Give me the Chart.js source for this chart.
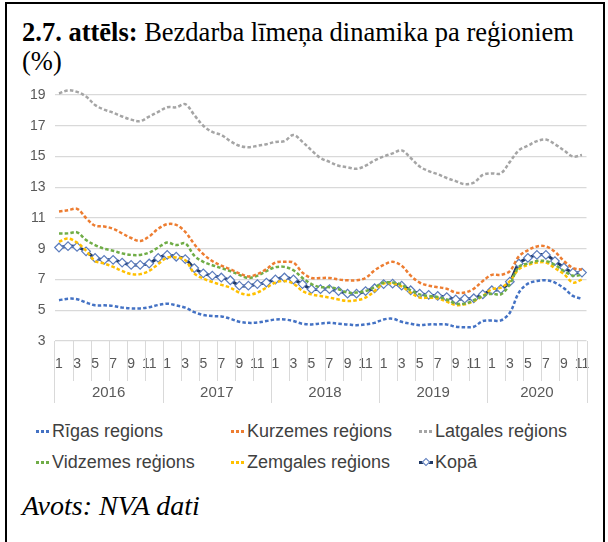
<!DOCTYPE html>
<html lang="lv">
<head>
  <meta charset="UTF-8" />
  <title>Bezdarba līmeņa dinamika pa reģioniem</title>
  <script src="https://cdn.jsdelivr.net/npm/chart.js"></script>
  <style>
    body {
      margin: 0;
      background: #fff;
      width: 608px;
      height: 542px;
      overflow: hidden;
      position: relative;
    }
    .ramis {
      position: absolute;
      left: 5px;
      top: 2px;
      width: 596px;
      height: 560px;
      border: 2px solid #000;
      border-bottom: none;
    }
    .virsraksts {
      position: absolute;
      left: 22px;
      top: 18px;
      width: 575px;
      font-family: 'Liberation Serif', 'Times New Roman', serif;
      font-size: 26.5px;
      line-height: 29px;
      color: #000;
    }
    .grafiks {
      position: absolute;
      left: 0;
      top: 70px;
    }
    .legenda {
      position: absolute;
      left: 0;
      top: 421px;
      width: 608px;
      font-family: 'Liberation Sans', Arial, sans-serif;
      font-size: 18px;
      color: #404040;
    }
    .legenda .el {
      position: absolute;
      white-space: nowrap;
      display: flex;
      align-items: center;
    }
    .legenda .paraugs {
      width: 14px;
      height: 3px;
      margin-right: 2px;
      position: relative;
    }
    .avots {
      position: absolute;
      left: 22px;
      top: 490px;
      font-family: 'Liberation Serif', 'Times New Roman', serif;
      font-style: italic;
      font-size: 28px;
      color: #000;
    }
  </style>
</head>
<body>
  <div class="ramis"></div>
  <div class="virsraksts"><b>2.7. attēls:</b> Bezdarba līmeņa dinamika pa reģioniem (%)</div>
  <canvas class="grafiks" id="chartBezdarbs" width="608" height="345"></canvas>
  <div class="legenda" id="legenda"></div>
  <div class="avots">Avots: NVA dati</div>

  <script>
    const gadi = ['2016', '2017', '2018', '2019', '2020'];
    const menesuSkaits = [12, 12, 12, 12, 11];

    const rigas = [5.65, 5.75, 5.72, 5.5, 5.32, 5.32, 5.28, 5.17, 5.12, 5.12, 5.2, 5.34,
      5.43, 5.32, 5.17, 4.88, 4.69, 4.62, 4.6, 4.45, 4.25, 4.18, 4.2, 4.3,
      4.4, 4.4, 4.3, 4.12, 4.08, 4.14, 4.18, 4.12, 4.08, 4.03, 4.08, 4.18,
      4.4, 4.45, 4.25, 4.12, 4.03, 4.08, 4.08, 4.08, 3.93, 3.9, 3.93, 4.3,
      4.34, 4.34, 4.84, 6.15, 6.73, 6.9, 6.95, 6.8, 6.43, 5.93, 5.75];
    const kurzemes = [11.42, 11.5, 11.6, 11.0, 10.5, 10.45, 10.3, 10.0, 9.7, 9.5, 9.8, 10.3,
      10.6, 10.55, 10.1, 9.3, 8.65, 8.2, 7.9, 7.67, 7.4, 7.2, 7.35, 7.67,
      8.1, 8.15, 8.1, 7.45, 7.1, 7.1, 7.1, 7.0, 6.95, 6.95, 7.1, 7.6,
      7.95, 8.15, 7.9, 7.25, 6.8, 6.6, 6.5, 6.4, 6.15, 6.15, 6.4, 6.9,
      7.3, 7.3, 7.55, 8.5, 8.9, 9.15, 9.15, 8.8, 8.2, 7.75, 7.65];
    const latgales = [19.1, 19.3, 19.2, 18.9, 18.35, 18.05, 17.85, 17.6, 17.4, 17.3, 17.6, 17.9,
      18.2, 18.2, 18.4, 17.7, 17.0, 16.6, 16.4, 16.0, 15.7, 15.6, 15.7, 15.8,
      15.95, 16.0, 16.4, 15.95, 15.4, 14.9, 14.65, 14.4, 14.3, 14.2, 14.4, 14.75,
      15.0, 15.2, 15.4, 14.9, 14.35, 14.05, 13.85, 13.6, 13.4, 13.2, 13.3, 13.8,
      13.9, 13.9, 14.65, 15.4, 15.7, 16.0, 16.1, 15.8, 15.4, 15.0, 15.1];
    const vidzemes = [10.0, 10.0, 10.07, 9.57, 9.24, 9.0, 8.87, 8.7, 8.6, 8.6, 8.75, 9.08,
      9.4, 9.24, 9.35, 8.55, 8.15, 7.93, 7.74, 7.55, 7.3, 7.1, 7.25, 7.55,
      7.8, 7.82, 7.6, 7.1, 6.7, 6.5, 6.5, 6.37, 6.15, 6.15, 6.25, 6.5,
      6.8, 6.8, 6.65, 6.3, 6.03, 5.93, 5.86, 5.7, 5.43, 5.43, 5.65, 5.93,
      6.08, 6.03, 6.7, 7.82, 8.04, 8.2, 8.2, 7.95, 7.56, 7.25, 7.3];
    const zemgales = [9.46, 9.67, 9.4, 8.87, 8.2, 8.04, 7.82, 7.56, 7.35, 7.35, 7.56, 8.0,
      8.43, 8.43, 8.26, 7.4, 7.06, 6.84, 6.65, 6.47, 6.15, 6.0, 6.15, 6.47,
      6.8, 6.9, 6.73, 6.25, 6.03, 5.93, 5.82, 5.7, 5.6, 5.65, 5.82, 6.25,
      6.73, 6.73, 6.55, 6.15, 5.82, 5.82, 5.78, 5.56, 5.34, 5.39, 5.6, 5.93,
      6.37, 6.47, 6.9, 7.67, 7.95, 8.1, 8.1, 7.74, 7.35, 6.8, 7.0];
    const kopa = [9.08, 9.17, 9.12, 8.83, 8.4, 8.28, 8.28, 8.1, 7.95, 7.95, 8.04, 8.4,
      8.6, 8.48, 8.33, 7.74, 7.4, 7.25, 7.13, 6.95, 6.6, 6.6, 6.7, 6.8,
      7.0, 7.13, 7.0, 6.7, 6.37, 6.37, 6.37, 6.25, 6.08, 6.08, 6.25, 6.43,
      6.7, 6.73, 6.6, 6.3, 6.08, 6.0, 5.93, 5.86, 5.7, 5.75, 5.78, 6.03,
      6.3, 6.37, 6.86, 8.04, 8.4, 8.6, 8.6, 8.2, 7.78, 7.45, 7.45];

    // mēnešu etiķetes 1..12 katram gadam
    const menesi = [];
    menesuSkaits.forEach(n => { for (let m = 1; m <= n; m++) menesi.push(String(m)); });

    const fonts = "'Liberation Sans', Arial, sans-serif";

    function rinda(label, dati, krasa) {
      return {
        label: label,
        data: dati,
        borderColor: krasa,
        backgroundColor: krasa,
        borderWidth: 2.5,
        borderDash: [3.5, 2.2],
        pointRadius: 0,
        tension: 0.35,
        clip: false
      };
    }

    // gadu etiķetes un atdalītāji zem ass
    const gaduAss = {
      id: 'gaduAss',
      afterDraw(chart) {
        const { ctx, chartArea } = chart;
        const x = chart.scales.x;
        const puse = (x.getPixelForValue(1) - x.getPixelForValue(0)) / 2;
        const apaksa = chartArea.bottom;
        ctx.save();
        ctx.strokeStyle = '#d9d9d9';
        ctx.lineWidth = 1;
        menesi.forEach((m, i) => {
          if (i % 2 !== 0) return;
          const px = Math.round(x.getPixelForValue(i) - puse) + 0.5;
          ctx.beginPath();
          ctx.moveTo(px, apaksa);
          ctx.lineTo(px, apaksa + (m === '1' ? 62 : 40));
          ctx.stroke();
        });
        const beigas = Math.round(x.getPixelForValue(menesi.length - 1) + puse) + 0.5;
        ctx.beginPath();
        ctx.moveTo(beigas, apaksa);
        ctx.lineTo(beigas, apaksa + 62);
        ctx.stroke();

        ctx.fillStyle = '#595959';
        ctx.font = '15px ' + fonts;
        ctx.textAlign = 'center';
        ctx.textBaseline = 'middle';
        let sak = 0;
        gadi.forEach((g, k) => {
          const beig = sak + menesuSkaits[k] - 1;
          const cx = (x.getPixelForValue(sak) + x.getPixelForValue(beig)) / 2;
          ctx.fillText(g, cx, apaksa + 52);
          sak = beig + 1;
        });
        ctx.restore();
      }
    };

    const grafiks = new Chart(document.getElementById('chartBezdarbs').getContext('2d'), {
      type: 'line',
      data: {
        labels: menesi,
        datasets: [
          rinda('Rīgas regions', rigas, '#4472c4'),
          rinda('Kurzemes reģions', kurzemes, '#ed7d31'),
          rinda('Latgales reģions', latgales, '#a5a5a5'),
          rinda('Vidzemes reģions', vidzemes, '#70ad47'),
          rinda('Zemgales reģions', zemgales, '#ffc000'),
          {
            label: 'Kopā',
            data: kopa,
            borderColor: '#1f3864',
            backgroundColor: '#1f3864',
            borderWidth: 3,
            tension: 0.35,
            pointStyle: 'rectRot',
            pointRadius: 4.3,
            pointBackgroundColor: '#ffffff',
            pointBorderColor: '#5b7cbd',
            pointBorderWidth: 1.2,
            clip: false
          }
        ]
      },
      options: {
        responsive: false,
        animation: false,
        layout: { padding: { left: 0, top: 25, right: 21.5, bottom: 0 } },
        scales: {
          y: {
            min: 3,
            max: 19,
            afterFit: s => { s.width = 54.5; },
            ticks: { stepSize: 2, color: '#595959', font: { size: 14, family: fonts }, padding: 9 },
            grid: { color: '#d9d9d9', lineWidth: 1.3, drawTicks: false },
            border: { display: false }
          },
          x: {
            offset: true,
            afterFit: s => { s.height = 74; },
            grid: { display: false },
            border: { display: false },
            ticks: {
              autoSkip: false,
              maxRotation: 0,
              padding: 7,
              color: '#595959',
              font: { size: 14, family: fonts },
              callback: function (v, i) { return i % 2 === 0 ? menesi[i] : ''; }
            }
          }
        },
        plugins: {
          legend: { display: false },
          tooltip: { enabled: false }
        }
      },
      plugins: [gaduAss]
    });

    // leģenda trīs kolonnās
    const kolonnas = [36, 231, 419];
    const rindas = [0, 31];
    const leg = document.getElementById('legenda');
    grafiks.data.datasets.forEach((ds, i) => {
      const el = document.createElement('div');
      el.className = 'el';
      el.style.left = kolonnas[i % 3] + 'px';
      el.style.top = rindas[Math.floor(i / 3)] + 'px';
      const p = document.createElement('span');
      p.className = 'paraugs';
      if (ds.pointStyle) {
        p.style.background = ds.borderColor;
        const d = document.createElement('span');
        d.style.cssText = 'position:absolute;left:4px;top:-2px;width:6px;height:6px;background:#fff;border:1px solid ' + ds.pointBorderColor + ';transform:rotate(45deg);box-sizing:border-box;';
        p.appendChild(d);
      } else {
        p.style.background = 'repeating-linear-gradient(90deg,' + ds.borderColor + ' 0 3px, transparent 3px 5px)';
      }
      el.appendChild(p);
      const t = document.createElement('span');
      t.textContent = ds.label;
      el.appendChild(t);
      leg.appendChild(el);
    });
  </script>
</body>
</html>
